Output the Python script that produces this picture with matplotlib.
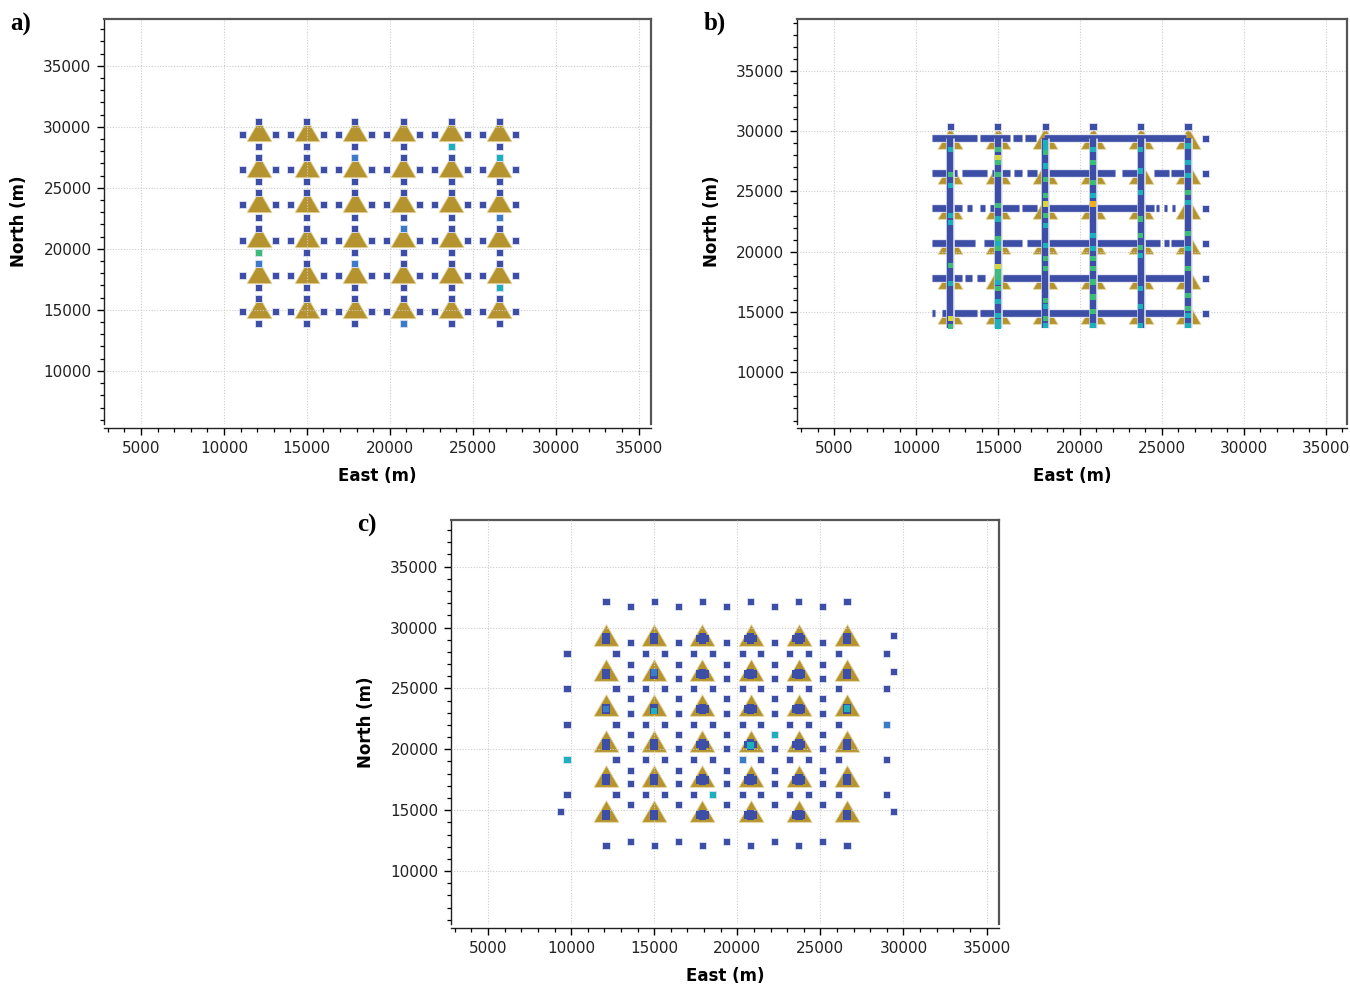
import numpy as np
import matplotlib
matplotlib.use('Agg')
import matplotlib.pyplot as plt
import matplotlib.patheffects as pe
from matplotlib.ticker import MultipleLocator
from matplotlib.colors import ListedColormap, BoundaryNorm

# station (triangle) grid
X_COLS = [12100, 15000, 17900, 20800, 23700, 26600]
Y_ROWS = [14900, 17800, 20700, 23600, 26500, 29400]

# a) receivers at fixed offsets around every station
A_OFFSETS = [(-1000, 0), (1000, 0), (0, 1000), (0, -1000)]
A_HIGHLIGHT = [(23700, 28400, 3), (26600, 27500, 3), (26600, 22600, 2), (12100, 19700, 4),
               (12100, 18800, 2), (26600, 16800, 3), (17900, 27500, 2), (20800, 21700, 2),
               (17900, 18800, 2), (20800, 13900, 2)]

# b) receiver lines
B_ROW_SEGMENTS = {
    29400: [(11000, 13700), (13900, 15750), (15900, 16450), (16650, 17350), (17800, 26450)],
    26500: [(11000, 12500), (12800, 14330), (14630, 15750), (15960, 16470), (16770, 17380),
            (17790, 22170), (22580, 23900), (24510, 25430), (25590, 26350)],
    23600: [(11000, 12800), (13100, 13400), (13900, 14230), (14530, 16260), (16470, 17380),
            (17790, 24510), (24620, 24800), (25120, 25320), (25630, 25830)],
    20700: [(11000, 13620), (14120, 16470), (16770, 24920), (25120, 25430), (25590, 26350)],
    17800: [(11000, 12800), (13000, 13400), (13720, 14230), (15300, 26350)],
    14900: [(10950, 11150), (11580, 13720), (13920, 26350)],
}
B_COL_RANGE = (13700, 29400)
B_TOP_Y = 30400
B_RIGHT_X = 27670
B_HIGHLIGHT = [
    [(28490, 3), (26430, 4), (25460, 3), (22990, 3), (22440, 3), (18860, 4), (17350, 3), (14460, 5), (13780, 4)],
    [(28490, 4), (27800, 5), (27390, 4), (26430, 4), (23810, 4), (22710, 3), (21060, 4), (20650, 3),
     (20240, 4), (18730, 5), (18310, 4), (17900, 4), (17450, 3), (16940, 4), (15840, 3), (14740, 3),
     (14190, 3), (13780, 3)],
    [(29040, 3), (28630, 3), (28210, 4), (27110, 3), (26010, 4), (24640, 4), (23950, 5), (22990, 4),
     (22160, 3), (20510, 3), (19410, 4), (18590, 4), (15980, 4), (15430, 3), (14460, 4), (13910, 3)],
    [(28490, 3), (27390, 4), (25740, 4), (24640, 3), (23950, 6), (21340, 3), (20240, 3), (19410, 4),
     (18590, 4), (17490, 4), (16250, 4), (15010, 4), (13910, 3)],
    [(28490, 3), (26700, 3), (24910, 3), (22710, 4), (21340, 4), (20380, 4), (19690, 3), (16940, 3),
     (15430, 3), (13910, 3)],
    [(28760, 3), (27390, 3), (26290, 3), (24910, 4), (24090, 3), (21480, 4), (20240, 3), (18590, 4),
     (16390, 4), (15290, 4), (14740, 3), (13910, 3)],
]

# c) staggered receivers
C_MID_X = [13550, 16450, 19350, 22250, 25150]
C_TOP_Y = (32100, 31700)      # at station columns / at mid columns
C_BOTTOM_Y = (12100, 12450)
C_MID_Y = [28800, 26950, 25850, 24150, 22950, 21250, 20100, 18250, 17200, 15450]
C_ROW_Y = [27900, 25000, 22050, 19150, 16250]
C_ROW_X = [9750, 12700, 14450, 15600, 17350, 18500, 20300, 21400, 23150, 24300, 26100, 29000]
C_EXTRA = [(9350, 14900), (29400, 29350), (29400, 26400), (29400, 14900)]
C_BLOB = [(0, -180), (0, -420)]
C_BLOB_WIDE = [(-170, -300), (170, -300)]
C_HIGHLIGHT = [(22250, 21250, 3), (9750, 19150, 3), (20300, 19150, 2), (18500, 16250, 3),
               (29000, 22050, 2)]
C_BLOB_HIGHLIGHT = [(15000, 26300, 2), (12100, 23300, 2), (15000, 23150, 3),
                    (26600, 23350, 3), (20800, 20300, 3)]

LEVEL_COLORS = ['#3c4ea6', '#3a7cc8', '#1cb0bd', '#3dbb78', '#d6d83a', '#f0ad1f']
cmap = ListedColormap(LEVEL_COLORS)
norm = BoundaryNorm(np.arange(0.5, 7.5, 1), cmap.N)
BLUE = LEVEL_COLORS[0]
GOLD = '#b5942f'

h = np.sqrt(3) / 2
TRI_CENTROID = [(-0.5, -h / 3), (0.5, -h / 3), (0, 2 * h / 3), (-0.5, -h / 3)]
TRI_BOX = [(-0.5, -h / 2), (0.5, -h / 2), (0, h / 2), (-0.5, -h / 2)]


def draw_triangles(ax, marker, ms, z=2):
    xs, ys = np.meshgrid(X_COLS, Y_ROWS)
    ax.plot(xs.ravel(), ys.ravel(), ls='none', marker=marker, ms=ms, color=GOLD,
            mec='#e6d7a2', mew=0.6, zorder=z)


def squares(ax, xs, ys, levels=None, z=3, edge=True, s=26):
    xs = np.asarray(xs, float)
    ys = np.asarray(ys, float)
    if levels is None:
        levels = np.ones(len(xs))
    ax.scatter(xs, ys, c=levels, cmap=cmap, norm=norm, marker='s', s=s,
               edgecolors='#e2e4f2' if edge else 'none', linewidths=0.6 if edge else 0,
               zorder=z)


def style(ax, xlim, ylim):
    ax.set_xlim(*xlim)
    ax.set_ylim(*ylim)
    ax.set_xticks(np.arange(5000, 35001, 5000))
    ax.set_yticks(np.arange(10000, 35001, 5000))
    ax.xaxis.set_minor_locator(MultipleLocator(1000))
    ax.yaxis.set_minor_locator(MultipleLocator(1000))
    ax.tick_params(which='major', direction='out', length=5, width=1, labelsize=11,
                   labelcolor='#222222', pad=4)
    ax.tick_params(which='minor', direction='out', length=3, width=0.9)
    ax.grid(True, which='major', color='#cccccc', ls=(0, (1, 1.5)), lw=0.8, zorder=5)
    ax.set_axisbelow(False)
    for s in ['top', 'right']:
        ax.spines[s].set_color('#555555')
        ax.spines[s].set_linewidth(1.6)
    for s in ['left', 'bottom']:
        ax.spines[s].set_color('#222222')
        ax.spines[s].set_linewidth(1.0)
    ax.spines['bottom'].set_position(('outward', 3))
    ax.set_xlabel('East (m)', fontsize=12, fontweight='bold', labelpad=8)
    ax.set_ylabel('North (m)', fontsize=12, fontweight='bold', labelpad=11)


fig = plt.figure(figsize=(13.5, 9.85), dpi=100)
W, H = 1350, 985


def axes_px(l, t, r, b):
    return fig.add_axes([l / W, 1 - b / H, (r - l) / W, (b - t) / H])


ax_a = axes_px(104, 19, 651, 424)
ax_b = axes_px(797, 19, 1347, 424)
ax_c = axes_px(451, 520, 999, 924)

# ---- a)
draw_triangles(ax_a, TRI_CENTROID, 20.8)
ax_, ay_ = [], []
for x in X_COLS:
    for y in Y_ROWS:
        for dx, dy in A_OFFSETS:
            ax_.append(x + dx)
            ay_.append(y + dy)
squares(ax_a, ax_, ay_)
hx, hy, hl = zip(*A_HIGHLIGHT)
squares(ax_a, hx, hy, hl, z=4)
style(ax_a, (2770, 35750), (5650, 38830))

# ---- b)
draw_triangles(ax_b, TRI_BOX, 18)
halo = [pe.Stroke(linewidth=6.2, foreground='#e4e6f3'), pe.Normal()]
for y, segs in B_ROW_SEGMENTS.items():
    for x0, x1 in segs:
        ax_b.plot([x0, x1], [y, y], color=BLUE, lw=4.8, solid_capstyle='butt',
                  path_effects=halo, zorder=3)
for i, x in enumerate(X_COLS):
    ax_b.plot([x, x], B_COL_RANGE, color=BLUE, lw=4.6, solid_capstyle='butt',
              path_effects=halo, zorder=3.2)
    yy, lv = zip(*B_HIGHLIGHT[i])
    ax_b.scatter(np.full(len(yy), x), yy, c=lv, cmap=cmap, norm=norm, marker='s',
                 s=14, linewidths=0, zorder=3.5)
squares(ax_b, X_COLS, [B_TOP_Y] * len(X_COLS))
squares(ax_b, [B_RIGHT_X] * len(Y_ROWS), Y_ROWS)
style(ax_b, (2740, 36300), (5710, 39300))

# ---- c)
draw_triangles(ax_c, TRI_BOX, 18)
cx, cy = [], []
for x in X_COLS:
    cx += [x, x]
    cy += [C_TOP_Y[0], C_BOTTOM_Y[0]]
for x in C_MID_X:
    cx += [x, x]
    cy += [C_TOP_Y[1], C_BOTTOM_Y[1]]
    for y in C_MID_Y:
        cx.append(x)
        cy.append(y)
for y in C_ROW_Y:
    for x in C_ROW_X:
        cx.append(x)
        cy.append(y)
for x, y in C_EXTRA:
    cx.append(x)
    cy.append(y)
squares(ax_c, cx, cy)
bx, by = [], []
for i, x in enumerate(X_COLS):
    blob = C_BLOB + (C_BLOB_WIDE if 2 <= i <= 4 else [])
    for y in Y_ROWS:
        for dx, dy in blob:
            bx.append(x + dx)
            by.append(y + dy)
squares(ax_c, bx, by, edge=False, s=30)
hx, hy, hl = zip(*C_HIGHLIGHT)
squares(ax_c, hx, hy, hl, z=4)
hx, hy, hl = zip(*C_BLOB_HIGHLIGHT)
squares(ax_c, hx, hy, hl, z=4, edge=False, s=22)
style(ax_c, (2770, 35750), (5650, 38830))

lab = dict(fontsize=18, fontweight='bold', family='Liberation Serif', ha='center', va='center')
fig.text(21 / W, 1 - 24 / H, 'a)', **lab)
fig.text(715 / W, 1 - 23 / H, 'b)', **lab)
fig.text(367 / W, 1 - 525 / H, 'c)', **lab)

fig.savefig('out.png', dpi=100)
